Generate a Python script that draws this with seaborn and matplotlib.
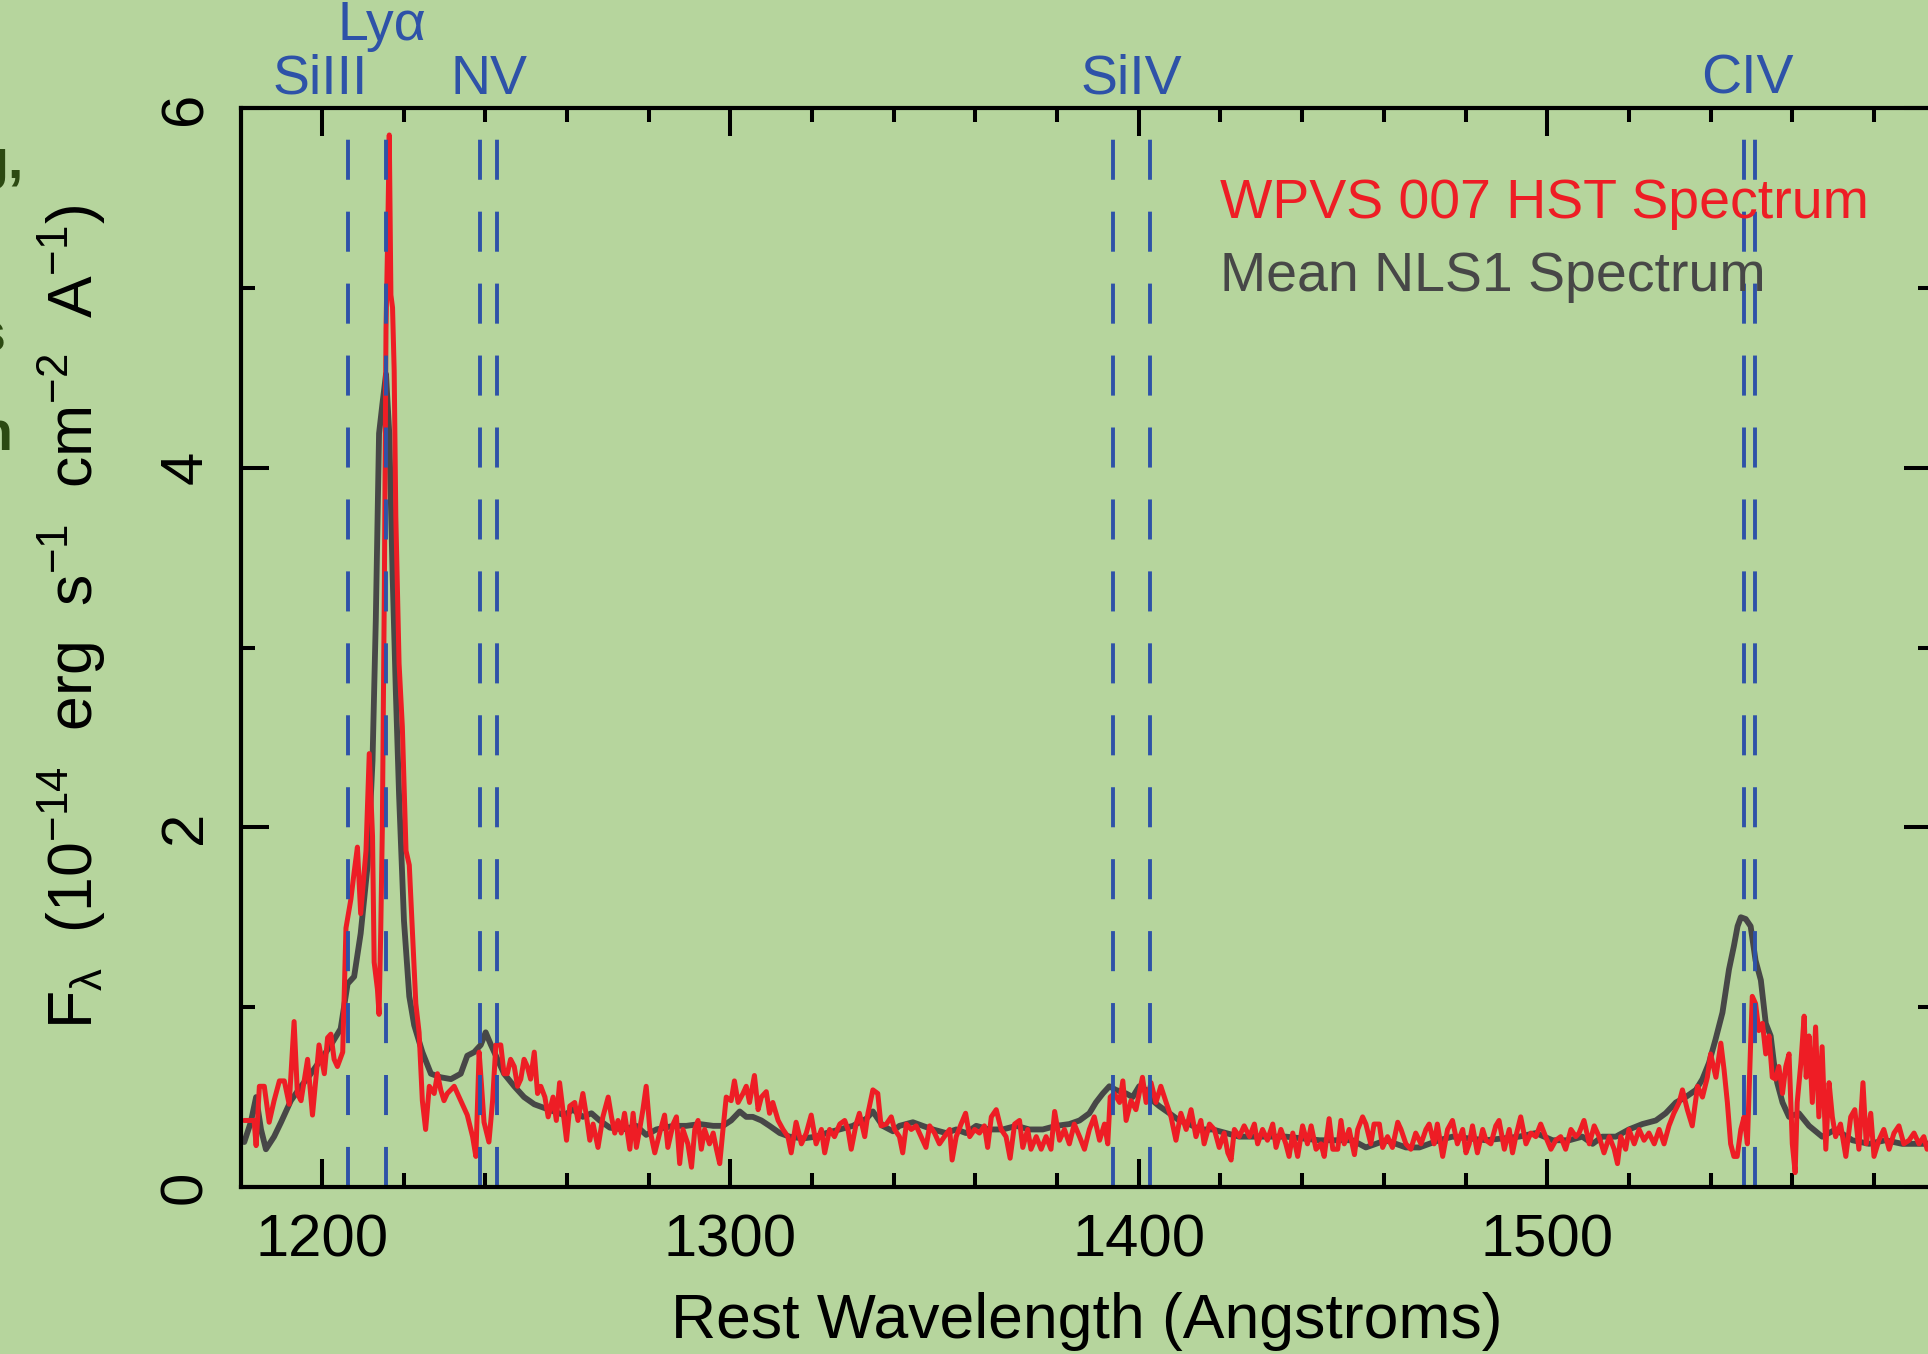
import numpy as np
import pandas as pd
import seaborn as sns
import matplotlib.pyplot as plt
from matplotlib.ticker import FixedLocator, MultipleLocator

# WPVS 007 HST spectrum (red)
red_wave = [1181.0, 1183.4, 1183.9, 1184.7, 1185.9, 1187.1, 1188.3, 1189.6, 1190.8, 1192.0,
            1193.2, 1194.0, 1194.9, 1196.5, 1197.7, 1199.3, 1200.6, 1201.4, 1202.2, 1203.0,
            1203.8, 1205.1, 1205.9, 1207.1, 1207.9, 1208.7, 1209.5, 1210.8, 1211.6, 1212.4,
            1212.8, 1213.6, 1214.0, 1214.4, 1214.8, 1215.3, 1215.7, 1216.1, 1216.5, 1216.9,
            1217.3, 1217.7, 1218.1, 1218.9, 1219.7, 1220.6, 1221.4, 1222.2, 1223.0, 1223.8,
            1224.6, 1225.4, 1226.3, 1227.5, 1228.3, 1229.1, 1229.9, 1230.7, 1232.4, 1234.0,
            1235.6, 1236.9, 1237.7, 1238.5, 1239.1, 1239.7, 1240.9, 1241.8, 1242.6, 1243.8,
            1244.6, 1245.4, 1246.2, 1247.1, 1247.9, 1248.7, 1249.5, 1250.3, 1251.1, 1252.0,
            1252.8, 1253.6, 1254.6, 1255.4, 1256.6, 1257.4, 1258.2, 1259.0, 1259.9, 1260.7,
            1261.9, 1262.7, 1263.9, 1264.8, 1265.6, 1266.4, 1267.6, 1268.8, 1270.1, 1270.9,
            1271.7, 1272.5, 1273.3, 1274.1, 1275.4, 1276.2, 1277.0, 1277.8, 1278.6, 1279.4,
            1280.3, 1281.5, 1282.7, 1283.9, 1284.7, 1286.0, 1286.8, 1287.6, 1288.4, 1289.6,
            1290.5, 1291.3, 1292.1, 1292.9, 1293.7, 1294.9, 1295.8, 1296.6, 1297.4, 1298.2,
            1299.0, 1300.2, 1301.0, 1301.9, 1303.1, 1303.9, 1304.7, 1305.9, 1306.8, 1307.6,
            1308.8, 1309.6, 1310.4, 1311.7, 1312.9, 1314.1, 1314.9, 1316.1, 1317.4, 1318.6,
            1319.8, 1321.0, 1322.3, 1323.1, 1324.3, 1325.5, 1326.8, 1328.0, 1328.8, 1329.6,
            1330.8, 1331.6, 1332.9, 1333.7, 1334.9, 1336.1, 1336.9, 1338.2, 1339.4, 1340.2,
            1341.4, 1342.2, 1343.1, 1344.3, 1345.5, 1346.7, 1347.9, 1348.8, 1350.0, 1351.2,
            1352.4, 1353.7, 1354.3, 1355.3, 1356.5, 1357.6, 1358.6, 1359.8, 1361.0, 1362.2,
            1363.0, 1363.9, 1365.1, 1366.3, 1367.5, 1368.5, 1369.6, 1370.8, 1371.6, 1372.8,
            1373.6, 1374.9, 1376.1, 1377.3, 1378.5, 1379.4, 1380.6, 1381.8, 1383.0, 1384.2,
            1385.5, 1386.7, 1387.9, 1389.1, 1390.4, 1391.6, 1392.4, 1393.0, 1394.0, 1395.3,
            1396.1, 1396.9, 1398.1, 1399.3, 1400.1, 1400.9, 1401.8, 1403.0, 1404.2, 1405.4,
            1406.7, 1407.9, 1409.1, 1410.3, 1411.6, 1412.8, 1414.0, 1415.2, 1416.0, 1417.3,
            1418.5, 1419.7, 1420.9, 1421.8, 1422.6, 1423.4, 1424.6, 1425.8, 1427.1, 1428.3,
            1429.1, 1430.3, 1431.5, 1432.8, 1433.6, 1434.8, 1436.0, 1436.8, 1437.7, 1438.9,
            1440.1, 1441.3, 1442.2, 1443.4, 1444.6, 1445.4, 1446.6, 1447.5, 1448.7, 1449.5,
            1450.3, 1451.5, 1452.8, 1453.6, 1454.8, 1455.6, 1456.8, 1457.6, 1458.9, 1459.7,
            1460.9, 1462.1, 1463.4, 1464.2, 1465.4, 1466.6, 1467.8, 1469.1, 1470.3, 1471.1,
            1472.3, 1473.1, 1474.4, 1475.6, 1476.8, 1478.0, 1479.3, 1480.1, 1480.9, 1481.7,
            1482.9, 1484.2, 1485.0, 1486.2, 1487.4, 1488.2, 1489.5, 1490.7, 1491.5, 1492.3,
            1493.5, 1494.8, 1496.0, 1497.2, 1498.4, 1499.6, 1500.9, 1502.1, 1503.3, 1504.5,
            1505.8, 1507.0, 1507.8, 1509.0, 1510.3, 1511.5, 1512.7, 1513.9, 1515.2, 1516.4,
            1517.2, 1518.0, 1519.2, 1520.0, 1521.3, 1522.5, 1523.7, 1524.9, 1526.2, 1527.4,
            1528.6, 1529.8, 1531.0, 1532.3, 1533.1, 1534.3, 1535.5, 1536.8, 1538.0, 1539.2,
            1540.0, 1541.3, 1542.5, 1543.3, 1544.1, 1544.9, 1545.7, 1546.5, 1547.4, 1548.2,
            1549.0, 1549.8, 1550.2, 1551.0, 1551.8, 1552.7, 1553.5, 1554.3, 1555.1, 1555.9,
            1556.7, 1557.6, 1558.4, 1559.2, 1560.0, 1560.7, 1561.2, 1562.1, 1562.9, 1563.4,
            1564.1, 1564.9, 1565.7, 1566.5, 1567.3, 1568.2, 1569.0, 1569.8, 1570.6, 1571.8,
            1573.1, 1574.3, 1575.3, 1576.3, 1577.3, 1578.1, 1579.2, 1580.0, 1581.2, 1582.4,
            1583.7, 1584.9, 1586.1, 1587.3, 1588.6, 1589.8, 1591.0, 1592.2, 1593.0, 1594.5]
red_flux = [0.37, 0.37, 0.23, 0.56, 0.56, 0.36, 0.48, 0.59, 0.59, 0.46,
            0.92, 0.52, 0.48, 0.71, 0.40, 0.79, 0.63, 0.83, 0.85, 0.71,
            0.67, 0.75, 1.44, 1.60, 1.75, 1.89, 1.52, 1.87, 2.41, 1.95,
            1.25, 1.10, 0.96, 1.41, 1.99, 3.34, 4.77, 5.27, 5.85, 4.96,
            4.89, 4.54, 3.73, 2.91, 2.56, 1.87, 1.79, 1.41, 1.02, 0.86,
            0.48, 0.32, 0.56, 0.52, 0.63, 0.54, 0.48, 0.52, 0.56, 0.48,
            0.40, 0.28, 0.17, 0.75, 0.56, 0.36, 0.25, 0.48, 0.79, 0.79,
            0.63, 0.63, 0.71, 0.67, 0.56, 0.60, 0.71, 0.67, 0.60, 0.75,
            0.52, 0.56, 0.50, 0.39, 0.50, 0.37, 0.58, 0.43, 0.26, 0.45,
            0.47, 0.37, 0.52, 0.39, 0.26, 0.35, 0.22, 0.39, 0.50, 0.39,
            0.30, 0.37, 0.30, 0.41, 0.21, 0.41, 0.22, 0.32, 0.43, 0.56,
            0.32, 0.19, 0.30, 0.40, 0.22, 0.35, 0.39, 0.13, 0.32, 0.24,
            0.11, 0.32, 0.37, 0.21, 0.32, 0.24, 0.30, 0.21, 0.13, 0.32,
            0.50, 0.48, 0.59, 0.47, 0.52, 0.56, 0.47, 0.62, 0.43, 0.50,
            0.53, 0.41, 0.47, 0.37, 0.32, 0.28, 0.19, 0.36, 0.24, 0.30,
            0.40, 0.24, 0.32, 0.19, 0.32, 0.28, 0.35, 0.37, 0.32, 0.21,
            0.35, 0.41, 0.28, 0.41, 0.54, 0.52, 0.34, 0.35, 0.39, 0.32,
            0.28, 0.19, 0.35, 0.32, 0.34, 0.28, 0.22, 0.34, 0.30, 0.24,
            0.28, 0.32, 0.15, 0.28, 0.35, 0.41, 0.28, 0.32, 0.30, 0.34,
            0.22, 0.39, 0.43, 0.32, 0.28, 0.16, 0.35, 0.37, 0.22, 0.32,
            0.21, 0.28, 0.21, 0.28, 0.21, 0.42, 0.26, 0.32, 0.24, 0.35,
            0.28, 0.21, 0.32, 0.39, 0.26, 0.35, 0.24, 0.50, 0.52, 0.47,
            0.59, 0.37, 0.48, 0.43, 0.52, 0.61, 0.47, 0.58, 0.47, 0.56,
            0.47, 0.39, 0.26, 0.41, 0.32, 0.43, 0.28, 0.37, 0.24, 0.35,
            0.32, 0.22, 0.30, 0.19, 0.15, 0.32, 0.28, 0.34, 0.28, 0.35,
            0.24, 0.32, 0.26, 0.35, 0.22, 0.32, 0.24, 0.17, 0.30, 0.17,
            0.34, 0.24, 0.34, 0.21, 0.24, 0.17, 0.38, 0.21, 0.21, 0.37,
            0.24, 0.32, 0.18, 0.32, 0.39, 0.35, 0.24, 0.35, 0.35, 0.22,
            0.28, 0.22, 0.36, 0.32, 0.24, 0.21, 0.30, 0.24, 0.32, 0.35,
            0.24, 0.35, 0.17, 0.32, 0.37, 0.24, 0.32, 0.19, 0.24, 0.34,
            0.19, 0.32, 0.26, 0.24, 0.34, 0.37, 0.21, 0.32, 0.19, 0.28,
            0.39, 0.24, 0.30, 0.28, 0.35, 0.28, 0.21, 0.26, 0.28, 0.21,
            0.32, 0.28, 0.30, 0.37, 0.24, 0.34, 0.28, 0.19, 0.28, 0.21,
            0.13, 0.28, 0.21, 0.32, 0.24, 0.32, 0.26, 0.30, 0.24, 0.32,
            0.24, 0.34, 0.41, 0.47, 0.54, 0.43, 0.34, 0.56, 0.50, 0.61,
            0.74, 0.61, 0.80, 0.65, 0.47, 0.24, 0.17, 0.17, 0.32, 0.39,
            0.24, 0.80, 1.06, 1.02, 0.87, 0.91, 0.74, 0.84, 0.61, 0.60,
            0.67, 0.52, 0.67, 0.74, 0.24, 0.08, 0.47, 0.69, 0.95, 0.61,
            0.84, 0.47, 0.89, 0.39, 0.78, 0.21, 0.58, 0.39, 0.28, 0.35,
            0.17, 0.39, 0.43, 0.21, 0.58, 0.24, 0.41, 0.17, 0.26, 0.32,
            0.21, 0.30, 0.34, 0.24, 0.26, 0.30, 0.24, 0.28, 0.21, 0.26]

# Mean NLS1 spectrum (grey)
nls1_wave = [1181.0, 1182.6, 1183.9, 1185.1, 1186.3, 1188.3, 1190.0, 1192.4, 1194.9, 1197.3,
             1199.8, 1202.2, 1204.6, 1206.3, 1207.9, 1209.5, 1211.2, 1212.4, 1213.2, 1214.0,
             1214.8, 1215.7, 1216.5, 1217.3, 1218.1, 1218.9, 1220.1, 1221.4, 1222.6, 1224.6,
             1226.7, 1229.1, 1231.6, 1234.0, 1235.6, 1237.3, 1238.9, 1240.1, 1241.4, 1243.0,
             1244.6, 1247.1, 1249.5, 1252.0, 1254.4, 1256.8, 1259.3, 1261.5, 1263.9, 1266.0,
             1268.0, 1270.5, 1273.7, 1277.0, 1279.4, 1281.9, 1286.0, 1289.2, 1292.5, 1295.8,
             1298.2, 1300.2, 1302.3, 1303.9, 1305.5, 1307.6, 1309.6, 1312.1, 1314.5, 1317.8,
             1321.0, 1323.5, 1326.8, 1330.0, 1333.3, 1334.9, 1337.3, 1339.8, 1341.4, 1344.7,
             1347.1, 1349.6, 1352.8, 1355.3, 1357.7, 1360.2, 1363.4, 1366.7, 1370.0, 1373.2,
             1376.5, 1379.8, 1383.0, 1385.5, 1387.9, 1389.5, 1391.2, 1392.8, 1394.4, 1396.9,
             1398.5, 1400.1, 1401.8, 1403.4, 1405.0, 1407.5, 1409.9, 1412.4, 1414.8, 1418.1,
             1421.4, 1424.6, 1427.9, 1436.0, 1444.2, 1452.3, 1455.6, 1460.5, 1465.4, 1468.7,
             1473.5, 1476.8, 1485.0, 1493.1, 1497.2, 1501.3, 1505.4, 1508.6, 1511.1, 1513.5,
             1516.8, 1520.0, 1523.3, 1526.6, 1529.0, 1531.5, 1533.9, 1536.4, 1538.0, 1539.6,
             1541.2, 1542.9, 1544.5, 1545.7, 1546.6, 1547.4, 1548.6, 1549.8, 1551.0, 1552.3,
             1553.5, 1554.7, 1555.5, 1556.3, 1557.6, 1559.2, 1561.6, 1564.1, 1567.3, 1570.6,
             1574.7, 1578.8, 1582.8, 1586.9, 1593.0, 1594.5]
nls1_flux = [0.25, 0.36, 0.50, 0.32, 0.21, 0.28, 0.36, 0.48, 0.56, 0.63,
             0.71, 0.79, 0.88, 1.13, 1.17, 1.41, 1.79, 2.37, 3.15, 4.19,
             4.35, 4.52, 4.19, 3.42, 2.76, 2.18, 1.48, 1.06, 0.90, 0.75,
             0.63, 0.61, 0.60, 0.63, 0.73, 0.75, 0.79, 0.86, 0.79, 0.71,
             0.63, 0.56, 0.50, 0.46, 0.44, 0.42, 0.40, 0.43, 0.39, 0.41,
             0.37, 0.33, 0.32, 0.34, 0.29, 0.32, 0.34, 0.34, 0.35, 0.34,
             0.34, 0.37, 0.42, 0.39, 0.39, 0.37, 0.34, 0.30, 0.28, 0.27,
             0.28, 0.30, 0.32, 0.34, 0.38, 0.42, 0.34, 0.31, 0.34, 0.36,
             0.34, 0.32, 0.30, 0.32, 0.30, 0.34, 0.32, 0.32, 0.34, 0.32,
             0.32, 0.34, 0.35, 0.37, 0.41, 0.47, 0.52, 0.56, 0.54, 0.52,
             0.50, 0.56, 0.54, 0.48, 0.45, 0.41, 0.37, 0.35, 0.32, 0.32,
             0.30, 0.28, 0.28, 0.28, 0.26, 0.26, 0.22, 0.26, 0.22, 0.22,
             0.26, 0.28, 0.26, 0.28, 0.30, 0.26, 0.26, 0.28, 0.24, 0.28,
             0.28, 0.32, 0.35, 0.37, 0.41, 0.47, 0.50, 0.54, 0.60, 0.69,
             0.82, 0.97, 1.21, 1.34, 1.45, 1.50, 1.49, 1.45, 1.26, 1.15,
             0.91, 0.84, 0.69, 0.58, 0.47, 0.39, 0.41, 0.34, 0.28, 0.32,
             0.26, 0.24, 0.26, 0.24, 0.24, 0.25]

# emission line rest wavelengths (dashed markers)
line_waves = [1206.5, 1215.67, 1238.8, 1242.8, 1393.76, 1402.77, 1548.2, 1550.77]
line_names = ['SiIII', 'Ly\u03b1', 'NV', 'SiIV', 'CIV']
name_waves = [1199.7, 1214.7, 1240.9, 1398.3, 1549.0]
name_levels = [6.08, 6.38, 6.08, 6.08, 6.08]

bg = '#b6d59d'
blue = '#2e52a8'
red = '#ee1d25'
grey = '#474747'

sns.set_theme(style='ticks', rc={'axes.facecolor': bg, 'figure.facecolor': bg})
plt.rcParams['font.family'] = ['Liberation Sans', 'DejaVu Sans']
plt.rcParams['mathtext.fontset'] = 'custom'
plt.rcParams['mathtext.rm'] = 'Liberation Sans'
plt.rcParams['mathtext.it'] = 'Liberation Sans:italic'
plt.rcParams['mathtext.bf'] = 'Liberation Sans:bold'

W, H = 1928, 1354
fig = plt.figure(figsize=(W / 100, H / 100), dpi=100)
ax = fig.add_axes([241 / W, 1 - 1187 / H, (1932 - 241) / W, (1187 - 108) / H])

nls1 = pd.DataFrame({'wave': nls1_wave, 'flux': nls1_flux})
wpvs = pd.DataFrame({'wave': red_wave, 'flux': red_flux})
sns.lineplot(data=nls1, x='wave', y='flux', ax=ax, color=grey, lw=4.2,
             estimator=None, sort=False)
sns.lineplot(data=wpvs, x='wave', y='flux', ax=ax, color=red, lw=3.6,
             estimator=None, sort=False)

for w in line_waves:
    ax.axvline(w, color=blue, lw=2.8, linestyle=(0, (10.3, 8.2)))

for name, w, lev in zip(line_names, name_waves, name_levels):
    ax.text(w, lev, name, color=blue, fontsize=40, ha='center', va='baseline', clip_on=False)

ax.text(1420.0, 5.39, 'WPVS 007 HST Spectrum', color=red, fontsize=40, va='baseline')
ax.text(1420.0, 4.98, 'Mean NLS1 Spectrum', color=grey, fontsize=40, va='baseline')

ax.set_xlim(1180.2, 1594.2)
ax.set_ylim(0, 6)
ax.xaxis.set_major_locator(FixedLocator([1200, 1300, 1400, 1500]))
ax.xaxis.set_minor_locator(MultipleLocator(20))
ax.yaxis.set_major_locator(FixedLocator([0, 2, 4, 6]))
ax.yaxis.set_minor_locator(FixedLocator([1, 3, 5]))
ax.tick_params(which='both', direction='in', top=True, right=True, width=2.9, color='black')
ax.tick_params(which='major', length=20, labelsize=43, labelcolor='black')
ax.tick_params(which='minor', length=10)
ax.tick_params(axis='x', pad=19)
ax.tick_params(axis='y', pad=20)
for lab in ax.get_yticklabels():
    lab.set_rotation(90)
    lab.set_va('center')
for sp in ax.spines.values():
    sp.set_linewidth(3.0)
    sp.set_color('black')
ax.set_xlabel('')
ax.set_ylabel('')

fig.text(1087 / W, 1 - 1338 / H, 'Rest Wavelength (Angstroms)', fontsize=45,
         ha='center', va='baseline', color='black')
fig.text(72 / W, 1 - 617 / H,
         r'$\mathregular{F_\lambda\ \ (10^{-14}\ \ erg\ \ s^{-1}\ \ cm^{-2}\ \ A^{-1})}$',
         fontsize=45, rotation=90, ha='center', va='center', color='black')

# slide text clipped by the left edge of the picture
dark = '#2c4a12'
fig.text(24 / W, 1 - 178 / H, 'g,', fontsize=40, fontweight='bold', color=dark, ha='right', va='baseline')
fig.text(5 / W, 1 - 352 / H, 's', fontsize=40, fontweight='bold', color=dark, ha='right', va='baseline')
fig.text(12 / W, 1 - 450 / H, 'n', fontsize=40, fontweight='bold', color=dark, ha='right', va='baseline')

fig.savefig('out.png', dpi=100, facecolor=bg)
